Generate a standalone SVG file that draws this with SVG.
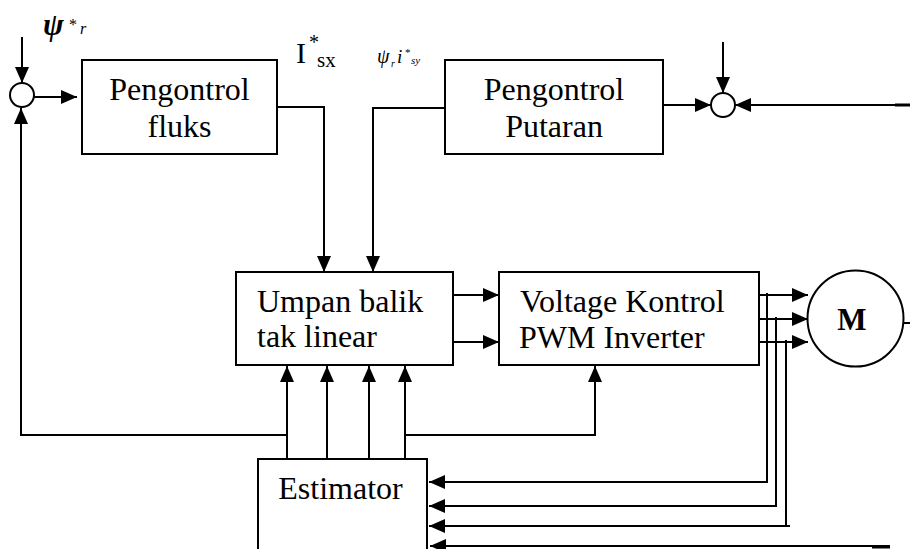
<svg xmlns="http://www.w3.org/2000/svg" width="910" height="549" viewBox="0 0 910 549">
<style>
.box{fill:#fff;stroke:#000;stroke-width:2}
.ln{fill:none;stroke:#000;stroke-width:2}
.arr{fill:none;stroke:#000;stroke-width:2;marker-end:url(#ah)}
.t{font-family:"Liberation Serif","Times New Roman",serif;font-size:32px;fill:#000}
.it{font-style:italic}
</style>
<defs>
<marker id="ah" markerUnits="userSpaceOnUse" markerWidth="16" markerHeight="14" refX="16" refY="7" orient="auto">
<path d="M0,0 L16,7 L0,14 z" fill="#000"/>
</marker>
</defs>
<rect width="910" height="549" fill="#fff"/>

<g id="connectors">
<line class="arr" x1="22" y1="37" x2="22" y2="83"/>
<line class="arr" x1="28" y1="97" x2="77" y2="97"/>
<polyline class="arr" points="287,435 21,435 21,108"/>
<polyline class="arr" points="277,107 324,107 324,272"/>
<polyline class="arr" points="445,108 373,108 373,272"/>
<line class="arr" x1="723" y1="42" x2="723" y2="93"/>
<line class="arr" x1="663" y1="105" x2="711" y2="105"/>
<line class="arr" x1="910" y1="105" x2="735" y2="105"/>
<line class="ln" x1="895" y1="105" x2="910" y2="105" style="stroke-width:3"/>
<line class="arr" x1="453" y1="295" x2="499" y2="295"/>
<line class="arr" x1="451" y1="342" x2="499" y2="342"/>
<line class="arr" x1="759" y1="295" x2="808" y2="295"/>
<line class="arr" x1="759" y1="319" x2="808" y2="319"/>
<line class="arr" x1="759" y1="342" x2="808" y2="342"/>
<line class="arr" x1="287" y1="459" x2="287" y2="366"/>
<line class="arr" x1="327" y1="459" x2="327" y2="366"/>
<line class="arr" x1="369" y1="459" x2="369" y2="366"/>
<line class="arr" x1="405" y1="459" x2="405" y2="366"/>
<polyline class="arr" points="405,435 595,435 595,366"/>
<polyline class="arr" points="767,293 767,482 429,482"/>
<polyline class="arr" points="776,317 776,506 429,506"/>
<polyline class="arr" points="786,340 786,526 790,526 429,526"/>
<line class="arr" x1="890" y1="546" x2="430" y2="546"/>
<line class="ln" x1="872" y1="547" x2="890" y2="547" style="stroke-width:3"/>
<line class="ln" x1="898" y1="323" x2="910" y2="323"/>
</g>

<g id="sum1">
<circle cx="22" cy="95" r="12" class="box"/>
</g>
<g id="sum2">
<circle cx="723" cy="105" r="12" class="box"/>
</g>

<g id="flux-ref-label">
<text class="t" x="43" y="35" style="font-size:31px"><tspan class="it" font-weight="bold">ψ</tspan><tspan x="69" y="30" style="font-size:16px">*</tspan><tspan class="it" x="80" y="34" style="font-size:16px">r</tspan></text>
</g>

<g id="isx-label">
<text class="t" x="296" y="63" style="font-size:30px">I<tspan x="309" y="49" style="font-size:20px">*</tspan><tspan x="317" y="67" style="font-size:21px">sx</tspan></text>
</g>

<g id="psi-isy-label">
<text class="t it" x="377" y="63" style="font-size:20px">ψ<tspan x="391" y="67" style="font-size:10px">r</tspan><tspan x="397" y="63" style="font-size:19px">i</tspan><tspan class="t" x="405" y="56" style="font-size:11px;font-style:normal">*</tspan><tspan x="411" y="64" style="font-size:11px">sy</tspan></text>
</g>

<g id="flux-controller">
<rect class="box" x="82" y="60" width="195" height="94"/>
<text class="t" x="179.5" y="100" text-anchor="middle">Pengontrol</text>
<text class="t" x="179.5" y="137" text-anchor="middle">fluks</text>
</g>

<g id="speed-controller">
<rect class="box" x="445" y="60" width="218" height="94"/>
<text class="t" x="554" y="100" text-anchor="middle">Pengontrol</text>
<text class="t" x="554" y="137" text-anchor="middle">Putaran</text>
</g>

<g id="nonlinear-feedback">
<rect class="box" x="236" y="272" width="217" height="93"/>
<text class="t" x="257" y="312">Umpan balik</text>
<text class="t" x="257" y="347">tak linear</text>
</g>

<g id="pwm-inverter">
<rect class="box" x="499" y="272" width="260" height="93"/>
<text class="t" x="520" y="312">Voltage Kontrol</text>
<text class="t" x="519" y="348">PWM Inverter</text>
</g>

<g id="motor">
<circle class="box" cx="855.5" cy="318.5" r="48"/>
<text class="t" x="852" y="330" text-anchor="middle" font-weight="bold" style="font-size:31px">M</text>
</g>

<g id="estimator">
<path class="ln" d="M258,549 L258,459 L427,459 L427,549"/>
<text class="t" x="340.5" y="499" text-anchor="middle">Estimator</text>
</g>
</svg>
